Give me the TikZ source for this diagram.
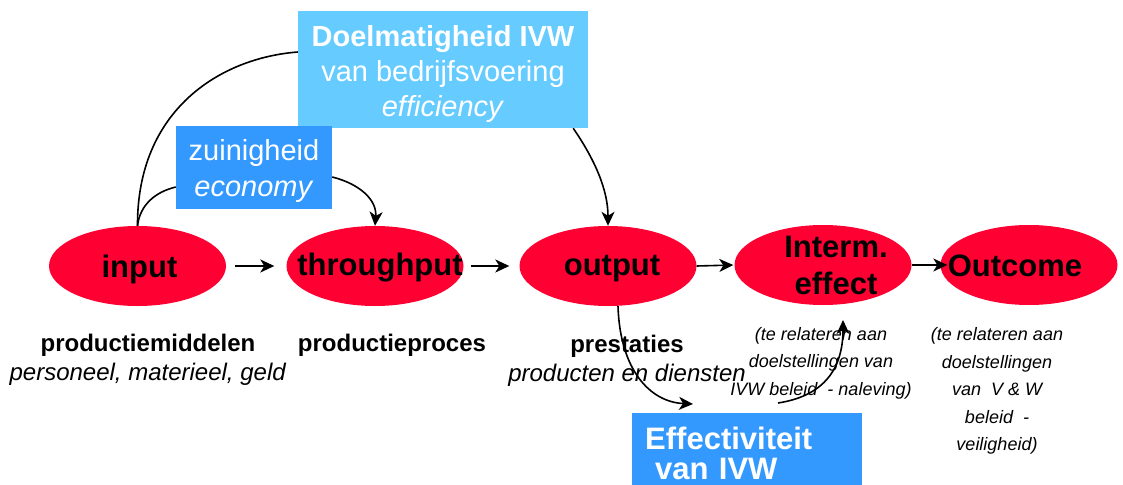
\documentclass[tikz,border=0pt]{standalone}
\usepackage{fontspec}
\setmainfont{Liberation Sans}
\usetikzlibrary{arrows.meta,shapes.geometric}
\definecolor{ellred}{HTML}{FF0033}
\definecolor{lightbox}{HTML}{66CCFF}
\definecolor{darkbox}{HTML}{3399FF}
\tikzset{
  ell/.style={ellipse,fill=ellred,minimum width=177pt,minimum height=80pt,inner sep=0pt},
  elltxt/.style={font=\fontsize{31}{37}\selectfont\bfseries,align=center,inner sep=0pt},
  boxtxt/.style={text=white,align=center,inner sep=0pt},
  sub/.style={font=\fontsize{24}{29}\selectfont,align=center,inner sep=0pt},
  note/.style={font=\fontsize{18}{27.5}\selectfont\itshape,align=center,inner sep=0pt},
  conn/.style={line width=1.6pt},
  arr/.style={line width=1.6pt,-{Stealth[length=14pt,width=13pt,inset=4pt]}},
}
\begin{document}
\begin{tikzpicture}[x=1pt,y=-1pt]
\useasboundingbox (0,0) rectangle (1123,484);
% ellipses
\node[ell,label={[elltxt,xshift=2pt,yshift=-3pt]center:input}] (input) at (137.5,266) {};
\node[ell,label={[elltxt,xshift=5pt,yshift=-2pt]center:throughput}] (through) at (375,266) {};
\node[ell,label={[elltxt,xshift=4pt,yshift=-3pt]center:output}] (output) at (608,266) {};
\node[ell,label={[elltxt,xshift=13pt]center:Interm.\\effect}] (interm) at (823,265) {};
\node[ell,label={[elltxt,xshift=-14pt,yshift=-1pt]center:Outcome}] (outcome) at (1029,265) {};
% boxes
\node[fill=lightbox,minimum width=290pt,minimum height=117pt,inner sep=0pt,
  label={[boxtxt,font=\fontsize{29}{35}\selectfont,yshift=-5pt]center:{\textbf{Doelmatigheid IVW}\\van bedrijfsvoering\\\textit{efficiency}}}]
  (doel) at (443,69.5) {};
\node[fill=darkbox,minimum width=156pt,minimum height=83pt,inner sep=0pt,
  label={[boxtxt,font=\fontsize{29}{36}\selectfont,yshift=-4pt]center:{zuinigheid\\\textit{economy}}}]
  (zuin) at (254,167.5) {};
\node[fill=darkbox,text=white,anchor=north west,text width=204pt,inner xsep=13pt,inner ysep=0pt,
  minimum height=80pt,align=left,font=\fontsize{31}{30}\selectfont\bfseries] (effect) at (632,413)
  {Effectiviteit\\\hspace*{10pt}van IVW};
% labels below
\node[sub] (l1) at (148,360) {\textbf{productiemiddelen}\\\textit{personeel, materieel, geld}};
\node[sub] (l2) at (392,345) {\textbf{productieproces}};
\node[sub] (l3) at (627,361) {\textbf{prestaties}\\\textit{producten en diensten}};
\node[note] (n1) at (821,363) {(te relateren aan\\doelstellingen van\\IVW beleid\ \ - naleving)};
\node[note] (n2) at (997,391) {(te relateren aan\\doelstellingen\\van\ \ V \& W\\beleid\ \ -\\veiligheid)};
% straight arrows
\draw[arr,shorten <=9pt,shorten >=12pt] (input.east) -- (through.west);
\draw[arr,shorten <=7pt,shorten >=10pt] (through.east) -- (output.west);
\draw[arr,shorten >=1pt] (output.east) -- (interm.west);
\draw[arr,shorten >=-7pt] (interm.east) -- (outcome.west);
% curves
\draw[conn] (input.north) .. controls (137,110) and (220,58) .. ([yshift=17.5pt]doel.west);
\draw[arr] ([xshift=-15pt]doel.south east) .. controls (595,160) and (608,190) .. (output.north);
\draw[conn] (input.north) .. controls (140,205) and (155,192) .. ([yshift=-19.5pt]zuin.west);
\draw[arr] ([yshift=-9.5pt]zuin.east) .. controls (360,184) and (377,200) .. (through.north);
\coordinate (e1) at (693,404);
\coordinate (e2) at (778,403);
\coordinate (e3) at (843,320);
\draw[arr] ([xshift=10pt]output.south) .. controls (620,370) and (650,402) .. (e1);
\draw[arr] (e2) .. controls (830,395) and (843,362) .. (e3);
\end{tikzpicture}
\end{document}
